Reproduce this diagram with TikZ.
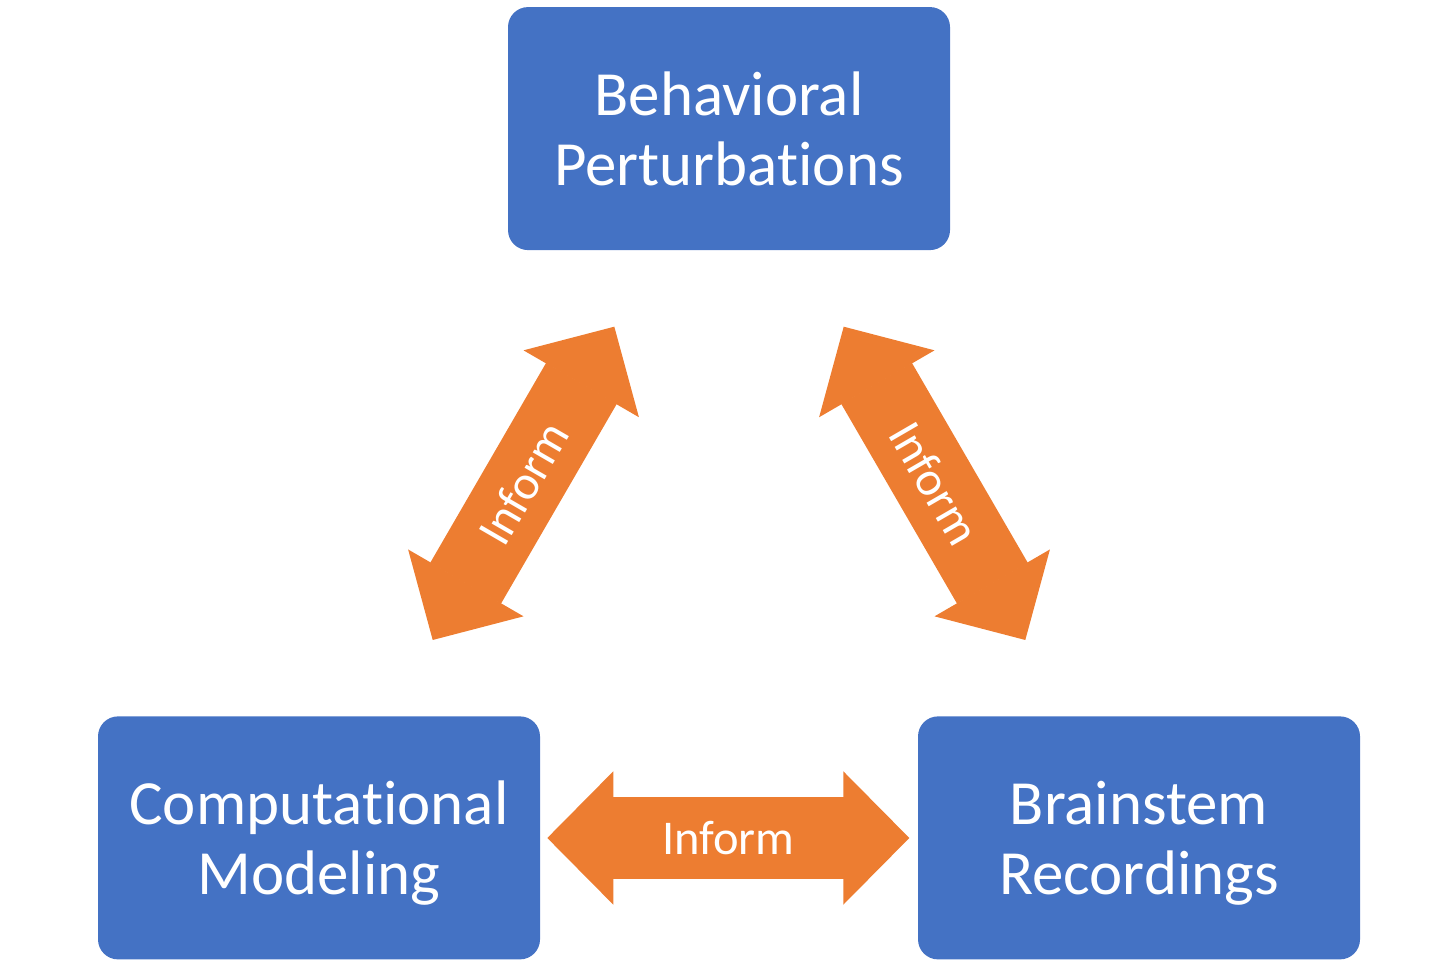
\documentclass[tikz,border=0pt]{standalone}
\usepackage{fontspec}
\setmainfont{Carlito}[Ligatures=NoCommon]
\usepackage{xcolor}
\usetikzlibrary{arrows.meta}

\definecolor{boxblue}{HTML}{4472C4}
\definecolor{arroworange}{HTML}{ED7D31}

\tikzset{
  topicbox/.style={rectangle, rounded corners=0.2cm, fill=boxblue, text=white,
    minimum width=4.42cm, minimum height=2.43cm, inner sep=0pt, align=center,
    text depth=0pt, font=\fontsize{17.9}{19.9}\selectfont},
  informarrow/.style={draw=arroworange, line width=0.817cm,
    {Triangle[length=0.66cm, width=1.33cm, line width=0.6pt]}-{Triangle[length=0.66cm, width=1.33cm, line width=0.6pt]}},
  informlabel/.style={text=white, inner sep=0pt, font=\fontsize{13.8}{16}\selectfont}
}

\begin{document}
\begin{tikzpicture}
        \useasboundingbox (0,0) rectangle (14.30,9.71);

        % the three boxes
        \node [topicbox] (behav) at (7.29,8.424) {Behavioral\\Perturbations};
        \node [topicbox] (compmod) at (3.19,1.331) {Computational\\Modeling};
        \node [topicbox] (brainrec) at (11.39,1.331) {Brainstem\\Recordings};

        % arrow ends
        \coordinate (lefttipA) at (4.327,3.31);
        \coordinate (lefttipB) at (6.143,6.443);
        \coordinate (righttipA) at (8.437,6.443);
        \coordinate (righttipB) at (10.253,3.31);
        \coordinate (bottipA) at (5.473,1.33);
        \coordinate (bottipB) at (9.093,1.33);

        \draw [informarrow] (lefttipA) -- (lefttipB) node [midway, sloped, informlabel] (informL) {Inform};
        \draw [informarrow] (righttipA) -- (righttipB) node [midway, sloped, informlabel] (informR) {Inform};
        \draw [informarrow] (bottipA) -- (bottipB) node [midway, informlabel] (informB) {Inform};
    \end{tikzpicture}
\end{document}
